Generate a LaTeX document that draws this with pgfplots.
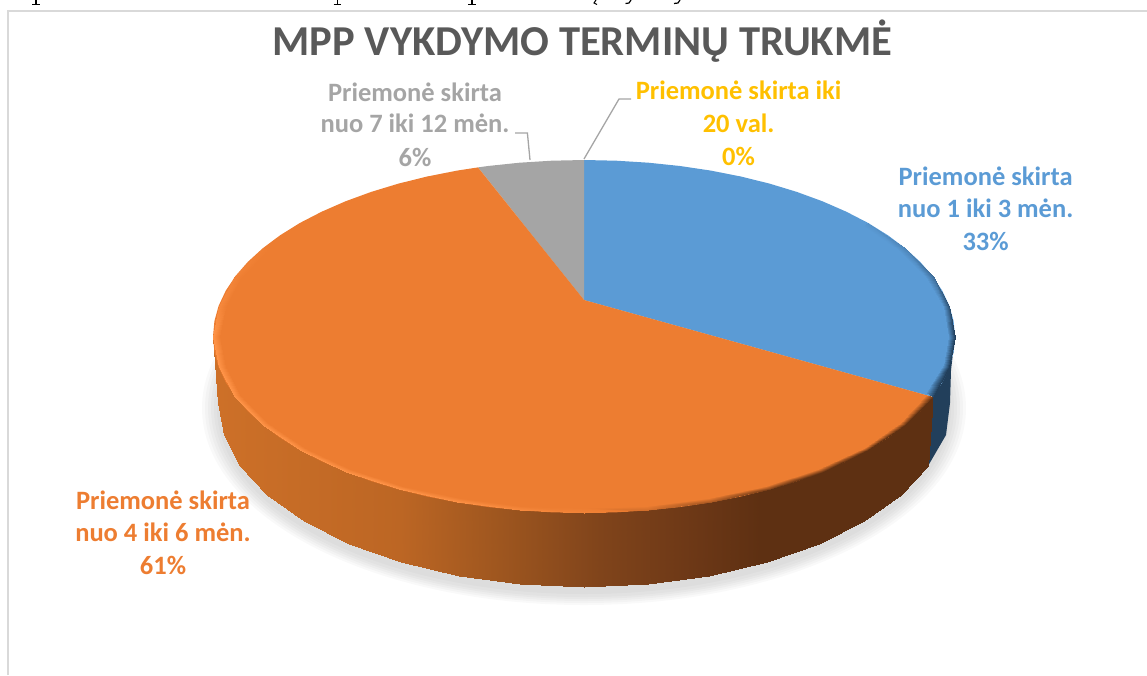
\documentclass[border=0pt]{standalone}
\usepackage{pgfplots}
\usepackage{pgfplotstable}
\pgfplotsset{compat=1.18}
\usepackage{fontspec}
\setmainfont{Carlito}
\definecolor{cBlue}{RGB}{91,155,213}
\definecolor{cOrange}{RGB}{237,125,49}
\definecolor{cGray}{RGB}{165,165,165}
\definecolor{cYellow}{RGB}{255,192,0}
\definecolor{cTitle}{RGB}{89,89,89}
\definecolor{cNavy}{RGB}{34,63,91}
\definecolor{cFrame}{RGB}{217,217,217}
% share of each duration, as labelled: 33, 61, 6, 0 %
\pgfplotstableread{
x y m
213 336.5 218
218 403 218
218.6 367.1 218.6
223.6 435 223.6
235.4 396.9 235.4
240 466 240
262.7 424.7 262.7
267 495 267
299.8 450.0 299.8
304 521.3 304
345.5 471.7 345.5
349 544 349
398.5 489.4 398.5
401 562.3 401
457.1 502.4 457.1
459 576 459
519.6 510.3 519.6
520 584 520
584 513 584
584 587 584
648.4 510.3 648.4
648 584 648
710.9 502.4 710.9
709 576 709
769.5 489.4 769.5
767 562.3 767
822.5 471.7 822.5
819 544 819
868.2 450.0 868.2
864 521.3 864
905.3 424.7 905.3
901 495 901
932.6 396.9 932.6
928 466 928
}\sideOrange
\pgfplotstableread{
x y m
262.7 248.3 1110
268 250 1100
235.4 276.1 1125
241 277.5 1100
218.6 305.9 1150
225.5 306.5 1100
213 336.5 1200
220 336.5 1100
218.6 367.1 1200
225.5 366.5 1100
235.4 396.9 1200
241 395.5 1100
262.7 424.7 1200
268 423 1100
299.8 450.0 1200
304.5 447.5 1100
345.5 471.7 1200
350 468.5 1100
398.5 489.4 1200
402 486 1100
457.1 502.4 1190
459.5 498 1100
519.6 510.3 1160
521 505.5 1100
584 513 1130
584 508 1100
648.4 510.3 1080
647 505.5 1100
710.9 502.4 1050
708.5 498 1100
769.5 489.4 1020
766 486 1100
822.5 471.7 1000
818 468.5 1100
868.2 450.0 1000
863.5 447.5 1100
905.3 424.7 1000
900 423 1100
932.6 396.9 1000
926 395 1100
}\rimOrange
\pgfplotstableread{
x y m
932.6 396.9 1400
926 392 1300
949.4 367.1 1400
942.5 365 1300
955 336.5 1400
948 336.5 1300
949.4 305.9 1380
942.5 307 1300
932.6 276.1 1350
926 278 1300
905.3 248.3 1325
899 251 1300
868.2 223.0 1310
863 226 1300
}\rimBlue
\begin{document}
\begin{tikzpicture}
\useasboundingbox (0,0) rectangle (1147pt,675pt);
\begin{axis}[at={(0,0)},anchor=south west,scale only axis,width=1147pt,height=675pt,
  xmin=0,xmax=1147,ymin=0,ymax=675,y dir=reverse,hide axis,clip=true,
  colormap={pie}{rgb255(200)=(205,112,40) rgb255(218)=(205,112,40) rgb255(400)=(188,102,36) rgb255(500)=(158,86,31) rgb255(600)=(128,68,27) rgb255(700)=(107,55,22) rgb255(760)=(94,48,18) rgb255(990)=(94,48,18)
    rgb255(1000)=(94,48,18) rgb255(1100)=(237,125,49) rgb255(1200)=(255,148,72) rgb255(1290)=(91,155,213) rgb255(1300)=(91,155,213) rgb255(1400)=(34,63,91) rgb255(1420)=(34,63,91)},
  point meta min=200,point meta max=1420,
  every node/.style={inner sep=0pt,outer sep=0pt}]
% frame
\addplot[cFrame,line width=2pt] coordinates {(7.5,675)(7.5,10.5)(1147,10.5)};
% remains of the page line above the chart, cut by the image's top edge
\addplot[black,line width=1.4pt,forget plot] coordinates {(36,0)(36,4)};
\addplot[black,line width=1pt,forget plot] coordinates {(32,4.2)(40,4.2)};
\addplot[black,line width=1.4pt,forget plot] coordinates {(337.5,0)(337.5,4)};
\addplot[black,line width=1pt,forget plot] coordinates {(333.5,4.2)(341,4.2)};
\addplot[black,line width=1.4pt,forget plot] coordinates {(472,0)(472,4)};
\addplot[black,line width=1pt,forget plot] coordinates {(468,4.2)(476,4.2)};
\addplot[black,line width=1pt,forget plot] coordinates {(596,0)(594,3)(597,4.5)};
\addplot[black,line width=1.2pt,forget plot] coordinates {(631,0)(629,3)(625.5,3.5)};
\addplot[black,line width=1.2pt,forget plot] coordinates {(680,0)(678,3)(674,3.5)};
% soft shadow
\foreach \a/\b in {382/197,379/195,376/193,373/191,370/189,367/186}{
  \edef\tmp{\noexpand\fill[black,opacity=0.022] (axis cs:584,408) ellipse [x radius=\a,y radius=\b];}
  \tmp
}
% blue side
\addplot[fill=cNavy,draw=none] coordinates {(932.6,396.9)(942.3,382.2)(949.4,367.1)(953.6,351.9)(955,336.5)(951,370)(950,403)(946,435)(928,466)};
% orange side
\addplot[surf,shader=interp,mesh/cols=2,point meta=explicit] table[x=x,y=y,meta=m] {\sideOrange};
% top face: blue slice, 33 %
\addplot[fill=cBlue,draw=none] coordinates {(584,300)(584,160)(616.4,160.7)(648.4,162.7)(680,166)(710.9,170.6)(740.8,176.5)(769.5,183.6)(796.8,191.9)(822.5,201.3)(846.3,211.7)(868.2,223)(887.9,235.3)(905.3,248.3)(920.2,261.9)(932.6,276.1)(942.3,290.8)(949.4,305.9)(953.6,321.1)(955,336.5)(953.6,351.9)(949.4,367.1)(942.3,382.2)(932.6,396.9)};
% top face: grey slice, 6 %
\addplot[fill=cGray,draw=none] coordinates {(584,300)(478,167.4)(488,166)(519.6,162.7)(551.6,160.7)(584,160)};
% top face: orange slice, 61 %
\addplot[fill=cOrange,draw=none] coordinates {(584,300)(478,167.4)(457.1,170.6)(427.2,176.5)(398.5,183.6)(371.2,191.9)(345.5,201.3)(321.7,211.7)(299.8,223)(280.1,235.3)(262.7,248.3)(247.8,261.9)(235.4,276.1)(225.7,290.8)(218.6,305.9)(214.4,321.1)(213,336.5)(214.4,351.9)(218.6,367.1)(225.7,382.2)(235.4,396.9)(247.8,411.1)(262.7,424.7)(280.1,437.7)(299.8,450)(321.7,461.3)(345.5,471.7)(371.2,481.1)(398.5,489.4)(427.2,496.5)(457.1,502.4)(488,507)(519.6,510.3)(551.6,512.3)(584,513)(616.4,512.3)(648.4,510.3)(680,507)(710.9,502.4)(740.8,496.5)(769.5,489.4)(796.8,481.1)(822.5,471.7)(846.3,461.3)(868.2,450)(887.9,437.7)(905.3,424.7)(920.2,411.1)(932.6,396.9)};
% bevels
\addplot[surf,shader=interp,mesh/cols=2,point meta=explicit] table[x=x,y=y,meta=m] {\rimOrange};
\addplot[surf,shader=interp,mesh/cols=2,point meta=explicit] table[x=x,y=y,meta=m] {\rimBlue};
% leaders
\addplot[cGray,line width=1.3pt] coordinates {(584,159)(619,99)(631,99)};
\addplot[cGray,line width=1.3pt] coordinates {(530,160)(527.4,133)(515,133)};
% labels
\def\lab#1#2#3#4{\node[anchor=base,text=#1,font=\fontsize{26.5}{30}\selectfont\bfseries] at (axis cs:#2,#3) {#4};}
\node[anchor=base,text=cTitle,font=\fontsize{42.6}{48}\selectfont\bfseries] at (axis cs:582.5,55) {MPP VYKDYMO TERMINŲ TRUKMĖ};
\lab{cGray}{415}{101}{Priemonė skirta}
\lab{cGray}{415}{132.7}{nuo 7 iki 12 mėn.}
\lab{cGray}{415}{166}{6\%}
\lab{cYellow}{738.6}{99}{Priemonė skirta iki}
\lab{cYellow}{738.6}{132}{20 val.}
\lab{cYellow}{738.6}{165}{0\%}
\lab{cBlue}{985.6}{185}{Priemonė skirta}
\lab{cBlue}{985.6}{217}{nuo 1 iki 3 mėn.}
\lab{cBlue}{985.6}{250}{33\%}
\lab{cOrange}{163}{509}{Priemonė skirta}
\lab{cOrange}{163}{541.7}{nuo 4 iki 6 mėn.}
\lab{cOrange}{163}{574}{61\%}
\end{axis}
\end{tikzpicture}
\end{document}
